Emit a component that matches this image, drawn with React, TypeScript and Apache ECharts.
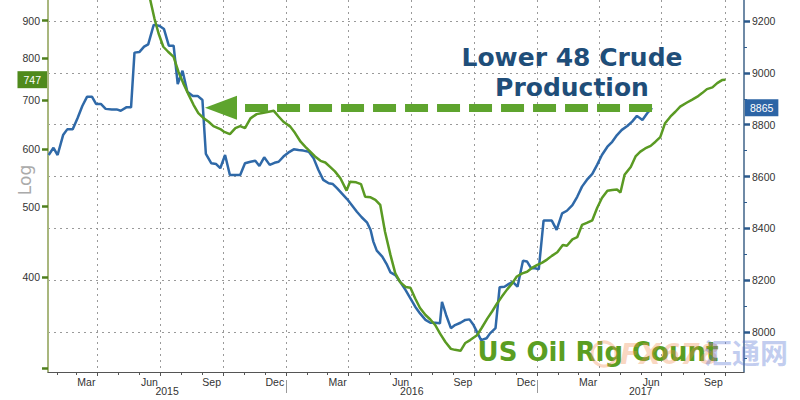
import React, { useEffect, useRef } from 'react';
import * as echarts from 'echarts';

// ---------- data ----------
const prodDates = [
  '2015-01-20','2015-01-27','2015-02-02','2015-02-10','2015-02-16','2015-02-24','2015-03-03','2015-03-10','2015-03-17','2015-03-24',
  '2015-03-30','2015-04-06','2015-04-13','2015-04-22','2015-04-29','2015-05-05','2015-05-13','2015-05-20','2015-05-25','2015-06-01',
  '2015-06-08','2015-06-14','2015-06-22','2015-06-30','2015-07-07','2015-07-14','2015-07-21','2015-07-27','2015-08-03','2015-08-10',
  '2015-08-18','2015-08-25','2015-09-01','2015-09-06','2015-09-14','2015-09-21','2015-09-27',
  '2015-10-04','2015-10-11','2015-10-19','2015-10-26','2015-11-02','2015-11-10','2015-11-17','2015-11-23','2015-11-30','2015-12-08',
  '2015-12-15','2015-12-21','2015-12-28','2016-01-04','2016-01-12','2016-01-19','2016-01-26','2016-02-03','2016-02-10','2016-02-17',
  '2016-02-24','2016-03-03','2016-03-09','2016-03-15','2016-03-22','2016-03-30','2016-04-06','2016-04-13','2016-04-20','2016-04-28',
  '2016-05-03','2016-05-07','2016-05-12','2016-05-20','2016-05-27','2016-06-01',
  '2016-06-08','2016-06-15','2016-06-23','2016-06-30','2016-07-07','2016-07-14','2016-07-22','2016-07-29','2016-08-05','2016-08-12',
  '2016-08-15','2016-08-21','2016-08-28','2016-09-03','2016-09-11','2016-09-18','2016-09-24','2016-09-30','2016-10-06','2016-10-11',
  '2016-10-19','2016-10-24','2016-11-01','2016-11-07','2016-11-14','2016-11-20','2016-11-26','2016-12-03','2016-12-11','2016-12-17',
  '2016-12-23','2016-12-29','2017-01-03','2017-01-10','2017-01-16','2017-01-22','2017-01-29','2017-02-06','2017-02-13','2017-02-21',
  '2017-02-28','2017-03-07','2017-03-14','2017-03-22','2017-03-29','2017-04-05','2017-04-13','2017-04-20','2017-04-27','2017-05-04',
  '2017-05-12','2017-05-19','2017-05-26','2017-06-03','2017-06-10','2017-06-17',
];
const prodValues = [
  8683, 8711, 8683, 8760, 8782, 8782, 8825, 8872, 8908, 8908,
  8880, 8880, 8861, 8859, 8859, 8854, 8867, 8867, 9078, 9080,
  9101, 9110, 9185, 9182, 9169, 9105, 9105, 8957, 9008, 8927,
  8911, 8911, 8895, 8687, 8651, 8648, 8632,
  8683, 8606, 8606, 8606, 8651, 8657, 8661, 8641, 8674, 8645,
  8653, 8657, 8677, 8692, 8705, 8702, 8700, 8696, 8670, 8625,
  8587, 8574, 8571, 8555, 8535, 8512, 8488, 8464, 8443, 8422,
  8394, 8349, 8314, 8291, 8259, 8230,
  8220, 8194, 8162, 8130, 8098, 8072, 8047, 8036, 8036, 8034,
  8117, 8066, 8015, 8027, 8036, 8047, 8049, 8027, 7995, 7969,
  7976, 7995, 8015, 8173, 8175, 8185, 8194, 8175, 8275, 8272,
  8246, 8246, 8242, 8430, 8430, 8430, 8394, 8458, 8468, 8490,
  8522, 8561, 8587, 8610, 8645, 8683, 8715, 8734, 8760, 8780,
  8795, 8812, 8834, 8818, 8844, 8865,
];

const rigDates = [
  '2015-06-11','2015-06-17','2015-06-23','2015-06-29','2015-07-06','2015-07-13','2015-07-21','2015-07-28','2015-08-04','2015-08-12',
  '2015-08-19','2015-08-26','2015-09-03','2015-09-10','2015-09-17','2015-09-27','2015-10-02','2015-10-11','2015-10-19','2015-10-26',
  '2015-11-02','2015-11-10','2015-11-19','2015-11-29','2015-12-14','2015-12-21','2015-12-28','2016-01-07','2016-01-14','2016-01-22',
  '2016-01-29','2016-02-05','2016-02-12','2016-02-20','2016-02-27','2016-03-05','2016-03-12','2016-03-20','2016-03-29','2016-04-03',
  '2016-04-12','2016-04-19','2016-04-25','2016-05-03','2016-05-10','2016-05-17','2016-05-24','2016-06-01','2016-06-08','2016-06-15',
  '2016-06-23','2016-06-30','2016-07-07','2016-07-14','2016-07-22','2016-07-29','2016-08-05','2016-08-12','2016-08-20','2016-08-28',
  '2016-09-03','2016-09-11','2016-09-18','2016-09-25','2016-10-05','2016-10-12','2016-10-20','2016-10-27','2016-11-03','2016-11-10',
  '2016-11-18','2016-11-25','2016-12-02','2016-12-10','2016-12-17','2016-12-24','2017-01-01','2017-01-08','2017-01-15','2017-01-22',
  '2017-01-30','2017-02-07','2017-02-13','2017-02-21','2017-02-28','2017-03-07','2017-03-14','2017-03-22','2017-03-29','2017-04-05',
  '2017-04-13','2017-04-20','2017-04-27','2017-05-02','2017-05-08','2017-05-17','2017-05-24','2017-05-31','2017-06-07','2017-06-15',
  '2017-06-22','2017-06-29','2017-07-06','2017-07-14','2017-07-21','2017-07-28','2017-08-07','2017-08-14','2017-08-22','2017-08-29',
  '2017-09-05','2017-09-13','2017-09-20','2017-09-27','2017-10-02',
];
const rigValues = [
  1008, 961, 907, 865, 829, 816, 803, 766, 739, 712,
  690, 672, 661, 654, 645, 639, 634, 629, 641, 645,
  641, 661, 670, 673, 677, 665, 654, 644, 631, 614,
  604, 595, 586, 578, 575, 567, 559, 547, 526, 541,
  540, 537, 516, 515, 511, 503, 462, 429, 405, 394,
  388, 387, 374, 363, 355, 350, 344, 335, 326, 319,
  318, 317, 325, 328, 333, 341, 351, 359, 368, 376,
  385, 392, 401, 405, 407, 412, 416, 419, 423, 428,
  433, 443, 442, 451, 454, 472, 475, 479, 498, 514,
  526, 527, 528, 523, 553, 567, 586, 595, 601, 606,
  614, 623, 651, 665, 675, 686, 695, 701, 708, 716,
  725, 729, 739, 746, 747,
];

const quarterTickDates = ['2015-04-01','2015-07-01','2015-10-01','2016-01-01','2016-04-01','2016-07-01','2016-10-01','2017-01-01','2017-04-01','2017-07-01','2017-10-01'];
const quarterLabels = ['Mar','Jun','Sep','Dec','Mar','Jun','Sep','Dec','Mar','Jun','Sep'];
const yearLabels = ['2015', '2016', '2017'];
const yearBoundaryDates = ['2016-01-01', '2017-01-01'];
const xStartDate = '2015-01-19';
const xEndDate = '2017-10-29';

const rigTicks = [300, 400, 500, 600, 700, 800, 900];
const rigTickLabels = [400, 500, 600, 700, 800, 900];
const rigRange = [296.5, 961];
const prodTicks = [8000, 8200, 8400, 8600, 8800, 9000, 9200];
const prodMinorTicks = [7900, 8100, 8300, 8500, 8700, 8900, 9100];
const prodRange = [7846, 9281];
const arrowEndDate = '2015-09-28';

// ---------- helpers ----------
const BASE = Date.UTC(2015, 0, 1);
function dayOf(s: string): number {
  const [y, m, d] = s.split('-').map(Number);
  return Math.round((Date.UTC(y, m - 1, d) - BASE) / 86400000);
}
const X_MIN = dayOf(xStartDate);
const X_MAX = dayOf(xEndDate);
const quarterDays = quarterTickDates.map(dayOf);
const quarterLabelMap = new Map<number, string>();
quarterDays.forEach((d, i) => quarterLabelMap.set(d, quarterLabels[i]));

const monthDays: number[] = [];
for (let y = 2015; y <= 2017; y++) {
  for (let m = 1; m <= 12; m++) {
    const d = Math.round((Date.UTC(y, m - 1, 1) - BASE) / 86400000);
    if (d > X_MIN && d < X_MAX) monthDays.push(d);
  }
}
const yearBoundaryDays = yearBoundaryDates.map(dayOf);
const segEdges = [X_MIN, ...yearBoundaryDays, X_MAX];
const yearCenterDays = yearLabels.map((_, i) => (segEdges[i] + segEdges[i + 1]) / 2);

const rigLast = rigValues[rigValues.length - 1];
const prodLast = prodValues[prodValues.length - 1];
const lastProdDate = prodDates[prodDates.length - 1];

const FONT = '"Liberation Sans", Arial, sans-serif';
const BOLD_FONT = '"DejaVu Sans", Verdana, sans-serif';
const GRID_LINE = { color: '#9a9a9a', type: [2, 4] as number[], width: 1 };

const option: any = {
  animation: false,
  backgroundColor: '#ffffff',
  axisPointer: { triggerOn: 'none' },
  grid: { left: 48, right: 56, top: 0, bottom: 28, containLabel: false, outerBoundsMode: 'none' },
  xAxis: [
    {
      type: 'value', min: X_MIN, max: X_MAX, position: 'bottom',
      axisLine: { show: true, onZero: false, lineStyle: { color: '#555', width: 1 } },
      axisTick: { show: true, customValues: quarterDays, length: 4, lineStyle: { color: '#555' } },
      axisLabel: {
        show: true, customValues: quarterDays, align: 'right', margin: 4,
        padding: [0, 2, 0, 0],
        formatter: (v: number) => quarterLabelMap.get(Math.round(v)) || '',
        color: '#333', fontSize: 10.5, fontFamily: FONT,
      },
      splitLine: { show: true, lineStyle: GRID_LINE },
    },
    {
      type: 'value', min: X_MIN, max: X_MAX, position: 'bottom',
      axisLine: { show: false },
      axisTick: { show: true, customValues: monthDays, length: 3, lineStyle: { color: '#555' } },
      axisLabel: { show: false },
      splitLine: { show: false },
    },
    {
      type: 'value', min: X_MIN, max: X_MAX, position: 'bottom', offset: 8,
      axisLine: { show: false },
      axisTick: { show: true, customValues: yearBoundaryDays, length: 13, lineStyle: { color: '#999' } },
      axisLabel: {
        show: true, customValues: yearCenterDays, margin: 5,
        formatter: (v: number) => {
          let best = 0;
          yearCenterDays.forEach((c, i) => { if (Math.abs(c - v) < Math.abs(yearCenterDays[best] - v)) best = i; });
          return yearLabels[best];
        },
        color: '#333', fontSize: 10.5, fontFamily: FONT,
      },
      splitLine: { show: false },
    },
  ],
  yAxis: [
    {
      type: 'value', position: 'left',
      min: Math.log(rigRange[0]), max: Math.log(rigRange[1]),
      axisLine: { show: true, onZero: false, lineStyle: { color: '#a9b77e', width: 2 } },
      axisTick: { show: true, customValues: rigTicks.map(Math.log), length: 6, lineStyle: { color: '#4f7f1d', width: 2.5 } },
      axisLabel: {
        show: true, customValues: rigTickLabels.map(Math.log), margin: 8,
        formatter: (v: number) => String(Math.round(Math.exp(v))),
        color: '#333', fontSize: 10.5, fontFamily: FONT,
      },
      splitLine: { show: false },
      name: 'Log', nameLocation: 'middle', nameGap: 15, nameMoveOverlap: false,
      nameTextStyle: { color: '#aaaaaa', fontSize: 17, fontFamily: BOLD_FONT, padding: [0, 0, 0, 12] },
      axisPointer: {
        show: true, type: 'none', status: 'show', value: Math.log(rigLast), triggerTooltip: false,
        label: {
          show: true, formatter: () => String(rigLast), backgroundColor: '#4f8a1c', color: '#fff',
          fontSize: 10.5, fontFamily: FONT, padding: [3, 6, 3, 6], margin: 1, borderRadius: 0,
        },
      },
    },
    {
      type: 'value', position: 'right', min: prodRange[0], max: prodRange[1],
      axisLine: { show: true, onZero: false, lineStyle: { color: '#3f6389', width: 1.5 } },
      axisTick: { show: true, customValues: prodTicks, length: 6, lineStyle: { color: '#2c5a8c', width: 2.5 } },
      axisLabel: {
        show: true, customValues: prodTicks, margin: 8, color: '#333', fontSize: 10.5, fontFamily: FONT,
        formatter: (v: number) => String(Math.round(v)),
      },
      splitLine: { show: true, lineStyle: GRID_LINE },
      axisPointer: {
        show: true, type: 'none', status: 'show', value: prodLast, triggerTooltip: false,
        label: {
          show: true, formatter: () => String(prodLast), backgroundColor: '#2c64a5', color: '#fff',
          fontSize: 10.5, fontFamily: FONT, padding: [3, 5, 3, 5], margin: 1, borderRadius: 0,
        },
      },
    },
    {
      type: 'value', position: 'right', min: prodRange[0], max: prodRange[1],
      axisLine: { show: false },
      axisTick: { show: true, customValues: prodMinorTicks, length: 3, lineStyle: { color: '#2c5a8c' } },
      axisLabel: { show: false },
      splitLine: { show: false },
    },
  ],
  series: [
    {
      type: 'line', name: 'Lower 48 Crude Production', xAxisIndex: 0, yAxisIndex: 1,
      data: prodDates.map((d, i) => [dayOf(d), prodValues[i]]),
      symbol: 'none', showSymbol: false, smooth: false,
      lineStyle: { color: '#2f69a8', width: 2.5 }, itemStyle: { color: '#2f69a8' },
      z: 2,
      markLine: {
        silent: true, animation: false, z: 10,
        symbol: ['none', 'triangle'], symbolSize: [24, 32],
        lineStyle: { color: '#5ea42e', width: 8, type: [23, 9], cap: 'butt', opacity: 1 },
        label: { show: false },
        data: [[
          { coord: [dayOf(lastProdDate), prodLast] },
          { coord: [dayOf(arrowEndDate), prodLast] },
        ]],
      },
    },
    {
      type: 'line', name: 'US Oil Rig Count', xAxisIndex: 0, yAxisIndex: 0,
      data: rigDates.map((d, i) => [dayOf(d), Math.log(rigValues[i])]),
      symbol: 'none', showSymbol: false, smooth: false,
      lineStyle: { color: '#5a9a23', width: 2.5 }, itemStyle: { color: '#5a9a23' },
      z: 3,
    },
  ],
  graphic: [
    {
      type: 'text', x: 572, y: 42, z: 20,
      style: {
        text: 'Lower 48 Crude\nProduction', fill: '#1f4e79', font: `bold 25px ${BOLD_FONT}`,
        align: 'center', verticalAlign: 'top', lineHeight: 30,
      },
    },
    {
      type: 'circle', shape: { cx: 604, cy: 354, r: 12 }, z: 21,
      style: { fill: 'none', stroke: 'rgba(240,140,80,0.35)', lineWidth: 3 },
    },
    {
      type: 'text', x: 598, y: 339, z: 20,
      style: {
        text: 'US Oil Rig Count', fill: '#5a9e22', font: `bold 26px ${BOLD_FONT}`,
        align: 'center', verticalAlign: 'top',
      },
    },
    {
      type: 'text', x: 620, y: 340, z: 21,
      style: { text: 'FX678', fill: 'rgba(240,140,80,0.35)', font: `italic bold 28px ${BOLD_FONT}`, align: 'left', verticalAlign: 'top' },
    },
    {
      type: 'text', x: 704, y: 338, z: 21,
      style: { text: '汇通网', fill: 'rgba(80,110,210,0.35)', font: 'bold 28px "Noto Sans CJK SC", sans-serif', align: 'left', verticalAlign: 'top' },
    },
  ],
};

export default function App() {
  const ref = useRef<HTMLDivElement>(null);
  useEffect(() => {
    if (!ref.current) return;
    const chart = echarts.init(ref.current, null, { renderer: 'svg' });
    chart.setOption(option);
    return () => chart.dispose();
  }, []);
  return (
    <div
      ref={ref}
      style={{ position: 'fixed', left: 0, top: 0, width: 800, height: 400, background: '#fff' }}
    />
  );
}
